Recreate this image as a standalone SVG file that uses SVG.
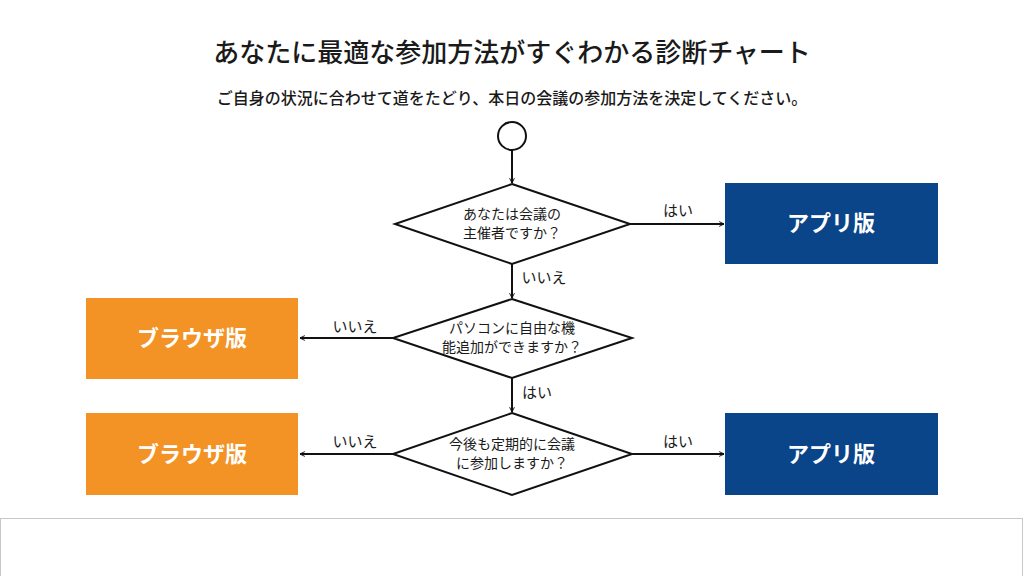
<svg xmlns="http://www.w3.org/2000/svg" width="1024" height="576" viewBox="0 0 1024 576">
<style>
text{font-family:"Noto Sans CJK JP","Noto Sans",sans-serif;fill:#1a1a1a}
.d{fill:#fff;stroke:#111;stroke-width:2}
.q{font-size:14px;text-anchor:middle}
.l{font-size:15px;text-anchor:middle}
.b{font-size:22px;font-weight:bold;fill:#fff;text-anchor:middle}
.c{stroke:#111;stroke-width:2;fill:none}
</style>
<defs><marker id="a" viewBox="0 0 10 10" refX="9" refY="5" markerWidth="6" markerHeight="6" orient="auto" markerUnits="userSpaceOnUse"><polyline points="1,1 9,5 1,9" fill="none" stroke="#111" stroke-width="1.6"/></marker></defs>
<rect width="1024" height="576" fill="#fff"/>
<text x="512" y="62" font-size="26" text-anchor="middle" font-weight="500">あなたに最適な参加方法がすぐわかる診断チャート</text>
<text x="512" y="104" font-size="16" text-anchor="middle" font-weight="500">ご自身の状況に合わせて道をたどり、本日の会議の参加方法を決定してください。</text>
<g id="connectors" class="c">
<line x1="512" y1="150" x2="512" y2="183" marker-end="url(#a)"/>
<line x1="630" y1="224" x2="724" y2="224" marker-end="url(#a)"/>
<line x1="512" y1="264" x2="512" y2="298" marker-end="url(#a)"/>
<line x1="393" y1="338" x2="300" y2="338" marker-end="url(#a)"/>
<line x1="512" y1="378" x2="512" y2="412" marker-end="url(#a)"/>
<line x1="393" y1="454" x2="300" y2="454" marker-end="url(#a)"/>
<line x1="632" y1="454" x2="724" y2="454" marker-end="url(#a)"/>
</g>
<g id="labels">
<text class="l" x="678" y="216">はい</text>
<text class="l" x="544" y="283">いいえ</text>
<text class="l" x="355" y="332">いいえ</text>
<text class="l" x="537" y="398">はい</text>
<text class="l" x="355" y="447">いいえ</text>
<text class="l" x="678" y="447">はい</text>
</g>
<g id="start"><circle cx="512" cy="136" r="14" class="d"/></g>
<g id="q1"><polygon class="d" points="512,184 630,224 512,264 395,224"/><text class="q" x="512" y="219">あなたは会議の</text><text class="q" x="512" y="238">主催者ですか？</text></g>
<g id="q2"><polygon class="d" points="512,299 632,338 512,378 393,338"/><text class="q" x="512" y="333">パソコンに自由な機</text><text class="q" x="512" y="352">能追加ができますか？</text></g>
<g id="q3"><polygon class="d" points="512,413 632,454 512,495 393,454"/><text class="q" x="512" y="449">今後も定期的に会議</text><text class="q" x="512" y="468">に参加しますか？</text></g>
<g id="app1"><rect x="725" y="183" width="213" height="81" fill="#0a4489"/><text class="b" x="831" y="231">アプリ版</text></g>
<g id="br1"><rect x="86" y="298" width="212" height="81" fill="#f39325"/><text class="b" x="192" y="346">ブラウザ版</text></g>
<g id="br2"><rect x="86" y="413" width="212" height="82" fill="#f39325"/><text class="b" x="192" y="462">ブラウザ版</text></g>
<g id="app2"><rect x="725" y="413" width="213" height="82" fill="#0a4489"/><text class="b" x="831" y="462">アプリ版</text></g>
<rect x="0.5" y="518.5" width="1022" height="70" fill="#fff" stroke="#c8c8c8"/>
</svg>
